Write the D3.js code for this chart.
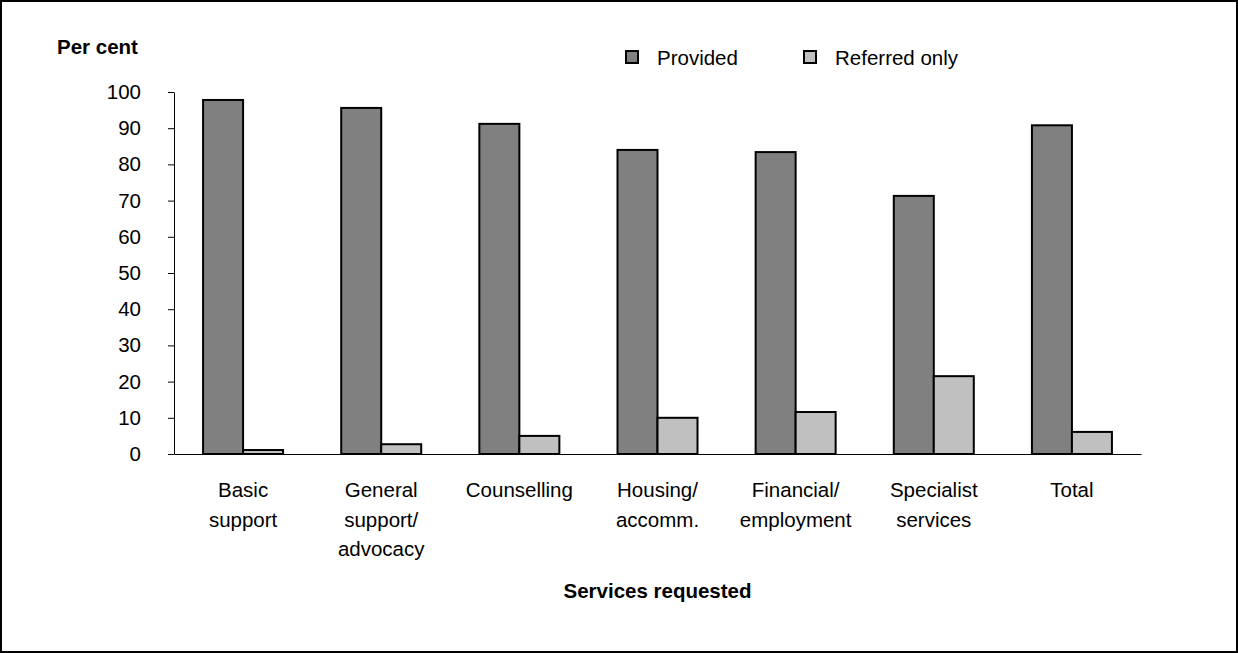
<!DOCTYPE html>
<html>
<head>
<meta charset="utf-8">
<script src="https://cdn.jsdelivr.net/npm/d3@7"></script>
<style>
  html, body { margin: 0; padding: 0; background: #fff; }
  svg { display: block; }
  text { font-family: "Liberation Sans", Arial, sans-serif; fill: #000; }
</style>
</head>
<body>
<svg id="chart" width="1238" height="653"></svg>
<script>
const categories = [
  ["Basic", "support"],
  ["General", "support/", "advocacy"],
  ["Counselling"],
  ["Housing/", "accomm."],
  ["Financial/", "employment"],
  ["Specialist", "services"],
  ["Total"]
];
const seriesNames = ["Provided", "Referred only"];
const provided = [97.8, 95.6, 91.2, 84.0, 83.4, 71.3, 90.8];
const referredOnly = [1.1, 2.7, 5.0, 10.0, 11.6, 21.5, 6.1];
const yTicks = [0, 10, 20, 30, 40, 50, 60, 70, 80, 90, 100];
const yTitle = "Per cent";
const xTitle = "Services requested";

const colors = { "Provided": "#808080", "Referred only": "#c0c0c0" };
const seriesValues = { "Provided": provided, "Referred only": referredOnly };

const FS = 20.5;
const svg = d3.select("#chart");
const W = 1238, H = 653;

// frame
svg.append("rect").attr("x", 1).attr("y", 1).attr("width", W - 2).attr("height", H - 2)
  .attr("fill", "#fff").attr("stroke", "#000").attr("stroke-width", 2);

const plot = { left: 174, right: 1141, top: 92, bottom: 454 };
const catKeys = categories.map((c, i) => i);
const x0 = d3.scaleBand().domain(catKeys).range([plot.left, plot.right]).paddingInner(0).paddingOuter(0);
const groupW = 80;
const x1 = d3.scaleBand().domain(seriesNames).range([0, groupW]).padding(0);
const y = d3.scaleLinear().domain([0, 100]).range([plot.bottom, plot.top]);

// y axis
const yAxis = d3.axisLeft(y).tickValues(yTicks).tickSize(6).tickPadding(27).tickSizeOuter(0);
const gy = svg.append("g").attr("transform", `translate(${plot.left},0)`).call(yAxis);
gy.select(".domain").attr("stroke", "#000").attr("stroke-width", 1);
gy.selectAll(".tick line").attr("stroke", "#000").attr("stroke-width", 1);
gy.selectAll(".tick text").attr("font-size", FS).attr("font-family", "Liberation Sans, Arial, sans-serif").attr("fill", "#000");

// bars
const groups = svg.append("g").selectAll("g").data(catKeys).join("g")
  .attr("transform", d => `translate(${x0(d) + x0.bandwidth() / 2 - groupW / 2},0)`);
groups.selectAll("rect")
  .data(i => seriesNames.map(s => ({ s, v: seriesValues[s][i] })))
  .join("rect")
  .attr("x", d => x1(d.s))
  .attr("y", d => y(d.v))
  .attr("width", x1.bandwidth())
  .attr("height", d => y(0) - y(d.v))
  .attr("fill", d => colors[d.s])
  .attr("stroke", "#000")
  .attr("stroke-width", 2);

// x axis baseline
const xAxis = d3.axisBottom(x0).tickSize(0).tickFormat(() => "");
const gx = svg.append("g").attr("transform", `translate(0,${plot.bottom})`).call(xAxis);
gx.select(".domain").attr("stroke", "#000").attr("stroke-width", 1);

// category labels
const labels = svg.append("g").selectAll("text").data(catKeys).join("text")
  .attr("text-anchor", "middle")
  .attr("font-size", FS)
  .attr("x", d => x0(d) + x0.bandwidth() / 2)
  .attr("y", 497);
labels.selectAll("tspan").data(d => categories[d]).join("tspan")
  .attr("x", function() { return d3.select(this.parentNode).attr("x"); })
  .attr("dy", (d, i) => i === 0 ? 0 : 29.5)
  .text(d => d);

// axis titles
svg.append("text").attr("x", 57).attr("y", 54).attr("font-size", FS).attr("font-weight", "bold").text(yTitle);
svg.append("text").attr("x", (plot.left + plot.right) / 2).attr("y", 598).attr("text-anchor", "middle")
  .attr("font-size", FS).attr("font-weight", "bold").text(xTitle);

// legend
const legendX = [626, 804];
const lg = svg.append("g").selectAll("g").data(seriesNames).join("g")
  .attr("transform", (d, i) => `translate(${legendX[i]},51)`);
lg.append("rect").attr("width", 12).attr("height", 12)
  .attr("fill", d => colors[d]).attr("stroke", "#000").attr("stroke-width", 2);
lg.append("text").attr("x", 31).attr("y", 13.5).attr("font-size", FS).text(d => d);
</script>
</body>
</html>
